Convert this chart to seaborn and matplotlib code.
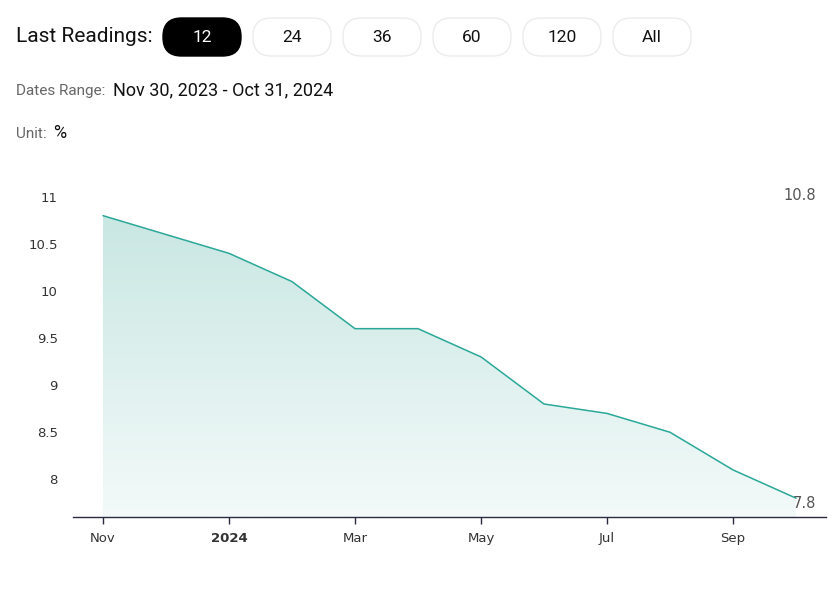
"""Area chart of the last 12 monthly readings (Nov 2023 - Oct 2024)."""

import numpy as np
import pandas as pd
import seaborn as sns
import matplotlib.pyplot as plt
from matplotlib.patches import FancyBboxPatch
from matplotlib.colors import LinearSegmentedColormap

# Data
MONTHS = ["Nov", "Dec", "Jan", "Feb", "Mar", "Apr",
          "May", "Jun", "Jul", "Aug", "Sep", "Oct"]
VALUES = [10.8, 10.6, 10.4, 10.1, 9.6, 9.6, 9.3, 8.8, 8.7, 8.5, 8.1, 7.8]
TICK_MONTHS = ["Nov", "Jan", "Mar", "May", "Jul", "Sep"]
TICK_LABELS = ["Nov", "2024", "Mar", "May", "Jul", "Sep"]
Y_TICKS = [8, 8.5, 9, 9.5, 10, 10.5, 11]
BUTTONS = ["12", "24", "36", "60", "120", "All"]

W, H = 840, 595
LINE_COLOR = "#2aa898"


def px(x, y):
    """Pixel position -> figure fraction."""
    return x / W, 1 - y / H


def plot_chart():
    df = pd.DataFrame({"month": MONTHS, "value": VALUES})
    df["idx"] = np.arange(len(df))

    sns.set_theme(style="white")
    plt.rcParams["font.family"] = ["DejaVu Sans"]

    fig = plt.figure(figsize=(W / 100, H / 100), dpi=100)
    ax = fig.add_axes([73 / W, 1 - 517 / H, (826 - 73) / W, (517 - 178) / H])

    ymin, ymax = 7.6, 11.2

    # gradient fill under the line
    poly = ax.fill_between(df["idx"], df["value"], ymin, color="none", lw=0)
    cmap = LinearSegmentedColormap.from_list("g", ["#f3faf9", "#c9e7e3"])
    grad = np.linspace(0, 1, 256).reshape(-1, 1)
    img = ax.imshow(grad, cmap=cmap, aspect="auto", origin="lower",
                    extent=[0, 11, ymin, max(VALUES)], zorder=1)
    img.set_clip_path(poly.get_paths()[0], transform=ax.transData)

    sns.lineplot(data=df, x="idx", y="value", ax=ax, color=LINE_COLOR,
                 linewidth=1.1, zorder=3)
    ax.set_xlim(-0.476, 11.476)
    ax.set_ylim(ymin, ymax)

    # axes styling
    for side in ["top", "right", "left"]:
        ax.spines[side].set_visible(False)
    ax.spines["bottom"].set_color("#2b2b40")
    ax.spines["bottom"].set_linewidth(1.0)
    ax.set_xlabel("")
    ax.set_ylabel("")
    ax.grid(False)

    ax.set_xticks([MONTHS.index(m) for m in TICK_MONTHS])
    ax.set_xticklabels(TICK_LABELS)
    ax.tick_params(axis="x", length=5, width=1, color="#2b2b40",
                   labelsize=9.5, labelcolor="#333333", pad=6, bottom=True)
    ax.get_xticklabels()[1].set_fontweight("bold")

    ax.set_yticks(Y_TICKS)
    ax.set_yticklabels([f"{v:g}" for v in Y_TICKS])
    ax.tick_params(axis="y", length=0, labelsize=9.5, labelcolor="#333333",
                   pad=11)

    # first / last value labels
    fig.text(*px(816, 196), f"{VALUES[0]:g}", ha="right", va="center",
             fontsize=10.5, color="#555555")
    fig.text(*px(816, 503), f"{VALUES[-1]:g}", ha="right", va="center",
             fontsize=10.5, color="#555555")

    # header
    head_font = ["Roboto", "DejaVu Sans"]
    fig.text(*px(16, 37), "Last Readings:", ha="left", va="center",
             fontsize=15, color="#111111", family=head_font)
    x0 = 163
    for i, label in enumerate(BUTTONS):
        bx = x0 + i * 90
        active = i == 0
        fx, fy = px(bx, 56)
        box = FancyBboxPatch(
            (fx, fy), 78 / W, 38 / H,
            boxstyle="round,pad=0,rounding_size=0.022",
            transform=fig.transFigure, mutation_aspect=W / H,
            facecolor="#000000" if active else "#ffffff",
            edgecolor="#000000" if active else "#ececec",
            linewidth=1.0, zorder=2)
        fig.add_artist(box)
        fig.text(*px(bx + 39, 37), label, ha="center", va="center",
                 fontsize=12.5, color="#ffffff" if active else "#111111",
                 family=head_font, zorder=3)

    fig.text(*px(16, 91), "Dates Range:", ha="left", va="center",
             fontsize=11, color="#666666", family=head_font)
    fig.text(*px(113, 90), "Nov 30, 2023 - Oct 31, 2024", ha="left",
             va="center", fontsize=13, color="#111111", family=head_font)
    fig.text(*px(16, 134), "Unit:", ha="left", va="center",
             fontsize=11, color="#666666", family=head_font)
    fig.text(*px(53, 133), "%", ha="left", va="center",
             fontsize=13, color="#111111", family=head_font)

    fig.savefig("out.png", dpi=100, facecolor="white")
    plt.close(fig)


if __name__ == "__main__":
    plot_chart()
